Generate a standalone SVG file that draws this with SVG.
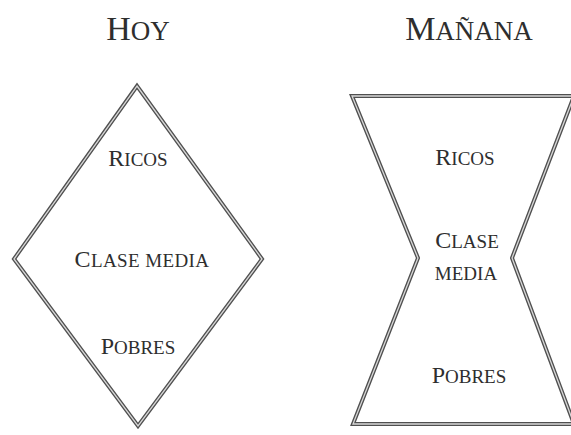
<svg xmlns="http://www.w3.org/2000/svg" width="571" height="435" viewBox="0 0 571 435">
<style>
.outer{fill:none;stroke:#505050;stroke-width:4;stroke-linejoin:miter;stroke-miterlimit:20}
.inner{fill:none;stroke:#d8d8d8;stroke-width:1.3;stroke-linejoin:miter;stroke-miterlimit:20}
text{font-family:"Liberation Serif","Times New Roman",serif;fill:#2e2e2e;text-anchor:middle}
.title{font-size:34px}
.ts{font-size:27px}
.lbl{font-size:24px}
.sc{font-size:19px}
</style>
<rect width="571" height="435" fill="#fff"/>
<g id="hoy">
<polygon class="outer" points="137,86 262,259 138,426 14,259"/>
<polygon class="inner" points="137,86 262,259 138,426 14,259"/>
<text class="title" x="138" y="40">H<tspan class="ts">OY</tspan></text>
<text class="lbl" x="138" y="166">R<tspan class="sc">ICOS</tspan></text>
<text class="lbl" x="142" y="267" letter-spacing="0.4">C<tspan class="sc">LASE MEDIA</tspan></text>
<text class="lbl" x="138" y="354">P<tspan class="sc">OBRES</tspan></text>
</g>
<g id="manana">
<polygon class="outer" points="352,96 574,96 512,258 574,424 353,424 418,258"/>
<polygon class="inner" points="352,96 574,96 512,258 574,424 353,424 418,258"/>
<text class="title" x="469" y="40">M<tspan class="ts">AÑANA</tspan></text>
<text class="lbl" x="465" y="165">R<tspan class="sc">ICOS</tspan></text>
<text class="lbl" x="467" y="248">C<tspan class="sc">LASE</tspan></text>
<text class="sc" x="466" y="280">MEDIA</text>
<text class="lbl" x="469" y="383">P<tspan class="sc">OBRES</tspan></text>
</g>
</svg>
